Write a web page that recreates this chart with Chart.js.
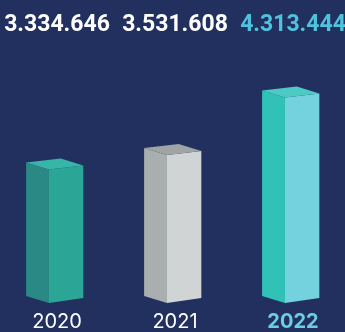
<!DOCTYPE html>
<html>
<head>
<meta charset="utf-8">
<script src="https://cdn.jsdelivr.net/npm/chart.js@4/dist/chart.umd.min.js"></script>
<style>
    html, body { margin: 0; padding: 0; background: #21305f; }
    #wrap { width: 345px; height: 332px; }
</style>
</head>
<body>
<div id="wrap"><canvas id="grafico"></canvas></div>
<script>
const anios = ["2020", "2021", "2022"];
const valores = [3334646, 3531608, 4313444];
const etiquetasValor = ["3.334.646", "3.531.608", "4.313.444"];

// colores de cada caja: cara izquierda, cara derecha, tapa
const caraIzq = ["#2b8985", "#a9aeae", "#30c2b6"];
const caraDer = ["#2ba596", "#d1d4d4", "#74d2df"];
const tapa = ["#37b6a8", "#9fa5a5", "#4ecac4"];
const colorValor = ["#ffffff", "#ffffff", "#4fc2dd"];
const colorAnio = ["#ffffff", "#ffffff", "#6ccfe1"];

// dibuja cada barra como una caja vista desde la esquina
const cajas3d = {
    id: "cajas3d",
    afterDatasetsDraw(chart) {
        const ctx = chart.ctx;
        const meta = chart.getDatasetMeta(0);
        const base = chart.scales.y.getBasePixel();
        meta.data.forEach((el, i) => {
            const w = el.width;
            const izq = el.x - 0.54 * w;
            const frente = el.x - 0.14 * w;
            const der = el.x + 0.46 * w;
            const arriba = el.y;
            ctx.fillStyle = caraIzq[i];
            ctx.beginPath();
            ctx.moveTo(izq, arriba - 7);
            ctx.lineTo(frente, arriba);
            ctx.lineTo(frente, base);
            ctx.lineTo(izq, base - 7);
            ctx.closePath();
            ctx.fill();
            ctx.fillStyle = caraDer[i];
            ctx.beginPath();
            ctx.moveTo(frente, arriba);
            ctx.lineTo(der, arriba - 4);
            ctx.lineTo(der, base - 5);
            ctx.lineTo(frente, base);
            ctx.closePath();
            ctx.fill();
            ctx.fillStyle = tapa[i];
            ctx.beginPath();
            ctx.moveTo(izq, arriba - 7);
            ctx.lineTo(frente, arriba);
            ctx.lineTo(der, arriba - 4);
            ctx.lineTo(izq + 0.5 * w + 6, arriba - 11);
            ctx.closePath();
            ctx.fill();
            // valor arriba
            ctx.save();
            ctx.font = "bold 23px Roboto";
            ctx.fillStyle = colorValor[i];
            ctx.textAlign = "center";
            ctx.textBaseline = "middle";
            ctx.fillText(etiquetasValor[i], el.x, 25);
            ctx.restore();
        });
    }
};

new Chart(document.getElementById("grafico"), {
    type: "bar",
    data: {
        labels: anios,
        datasets: [{
            data: valores,
            backgroundColor: "transparent",
            categoryPercentage: 1,
            barPercentage: 0.485
        }]
    },
    options: {
        responsive: true,
        maintainAspectRatio: false,
        animation: false,
        layout: { padding: { left: 57, right: 52, top: 47, bottom: -9 } },
        plugins: { legend: { display: false }, tooltip: { enabled: false } },
        scales: {
            x: {
                offset: false,
                grid: { display: false, drawTicks: false },
                border: { display: false },
                ticks: {
                    padding: 7,
                    maxRotation: 0,
                    autoSkip: false,
                    color: colorAnio,
                    font: ctx => ({ family: "Inter", size: 20, weight: ctx.index === 2 ? "bold" : "normal" })
                }
            },
            y: { display: false, min: 1520000, max: 5000000 }
        }
    },
    plugins: [cajas3d]
});
</script>
</body>
</html>
